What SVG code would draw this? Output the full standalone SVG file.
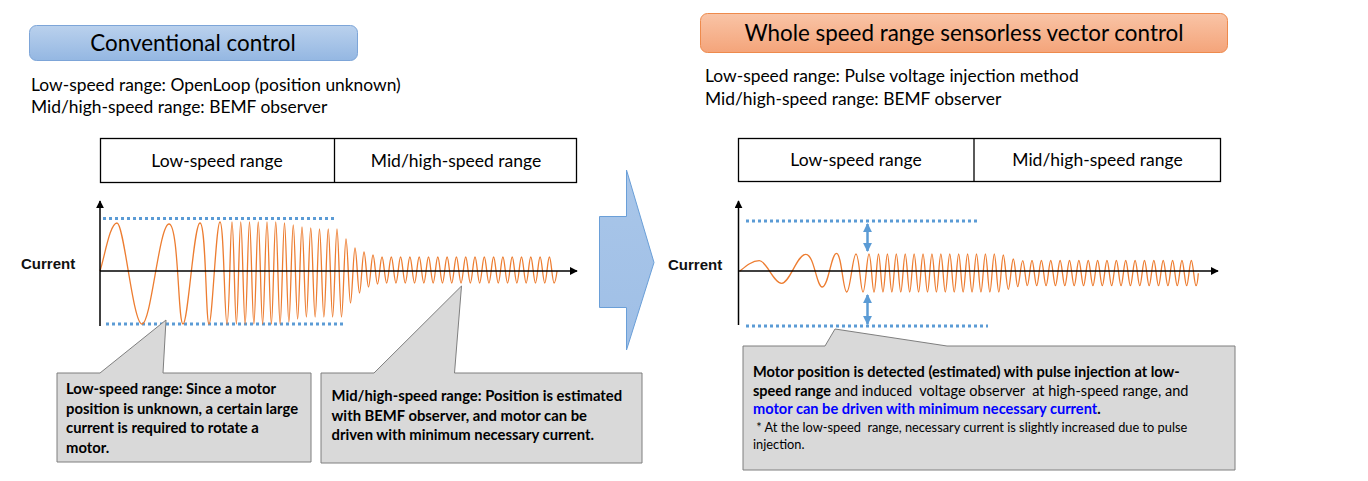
<svg xmlns="http://www.w3.org/2000/svg" width="1368" height="481" viewBox="0 0 1368 481">
<style>
.t{font-family:Lato,"Liberation Sans",sans-serif;fill:#000}
.title{font-size:22.4px}
.sub{font-size:17.4px}
.rng{font-size:17.5px}
.cb{font-size:14.8px;font-weight:bold}
.cbr{font-size:14.6px;font-weight:bold}
.cr{font-size:14.5px}
.cs{font-size:12.8px}
.cur{font-family:"Liberation Sans",Arial,sans-serif;font-size:15px;font-weight:bold;fill:#111}
.box{fill:#fff;stroke:#000;stroke-width:1.3}
.wave{fill:none;stroke:#ED7D31;stroke-width:1.3;stroke-linejoin:round}
.dot{stroke:#5B9BD5;stroke-width:3;stroke-dasharray:3 3;fill:none}
.axis{stroke:#000;stroke-width:1.5;fill:none}
.callout{fill:#D9D9D9;stroke:#7F7F7F;stroke-width:1}
.darr{stroke:#5B9BD5;stroke-width:2.5;fill:none}
</style>
<defs>
<linearGradient id="gBlue" x1="0" y1="0" x2="0" y2="1"><stop offset="0" stop-color="#BAD1ED"/><stop offset="1" stop-color="#94B7E2"/></linearGradient>
<linearGradient id="gOrange" x1="0" y1="0" x2="0" y2="1"><stop offset="0" stop-color="#F9C4A6"/><stop offset="1" stop-color="#F4A47A"/></linearGradient>
<linearGradient id="gArrow" x1="0" y1="0" x2="0" y2="1"><stop offset="0" stop-color="#A9C6E9"/><stop offset="1" stop-color="#9FBFE6"/></linearGradient>
<marker id="ah" viewBox="0 0 10 10" refX="9" refY="5" markerWidth="8" markerHeight="8" markerUnits="userSpaceOnUse" orient="auto"><path d="M0,0 L10,5 L0,10 z" fill="#000"/></marker>
<marker id="bh" viewBox="0 0 10 10" refX="9" refY="5" markerWidth="9" markerHeight="9" markerUnits="userSpaceOnUse" orient="auto-start-reverse"><path d="M0,0 L10,5 L0,10 z" fill="#5B9BD5"/></marker>
</defs>

<g id="title-conventional">
<rect x="29.5" y="25.5" width="328" height="35" rx="7" fill="url(#gBlue)" stroke="#7DA5D8"/>
<text class="t title" x="193" y="50.5" text-anchor="middle">Conventional control</text>
</g>
<g id="sub-conventional">
<text class="t sub" x="31" y="91">Low-speed range: OpenLoop (position unknown)</text>
<text class="t sub" x="31" y="113">Mid/high-speed range: BEMF observer</text>
</g>
<g id="title-sensorless">
<rect x="700.5" y="13.5" width="527" height="39" rx="7" fill="url(#gOrange)" stroke="#EE8A4C"/>
<text class="t title" x="964" y="41" text-anchor="middle">Whole speed range sensorless vector control</text>
</g>
<g id="sub-sensorless">
<text class="t sub" x="705" y="82">Low-speed range: Pulse voltage injection method</text>
<text class="t sub" x="705" y="105">Mid/high-speed range: BEMF observer</text>
</g>

<g id="range-left">
<rect class="box" x="100.5" y="138.5" width="476" height="44"/>
<line class="box" x1="334.5" y1="138.5" x2="334.5" y2="182.5"/>
<text class="t rng" x="217" y="166.5" text-anchor="middle">Low-speed range</text>
<text class="t rng" x="456" y="166.5" text-anchor="middle">Mid/high-speed range</text>
</g>
<g id="range-right">
<rect class="box" x="738.5" y="138.5" width="482" height="43"/>
<line class="box" x1="974" y1="138.5" x2="974" y2="181.5"/>
<text class="t rng" x="856" y="165.5" text-anchor="middle">Low-speed range</text>
<text class="t rng" x="1097.5" y="165.5" text-anchor="middle">Mid/high-speed range</text>
</g>

<g id="chart-left">
<text class="cur" x="21" y="269">Current</text>
<line class="dot" x1="103" y1="218.5" x2="336" y2="218.5"/>
<line class="dot" x1="106" y1="324" x2="344" y2="324"/>
<path class="wave" d="M100,271 C105,255 110,223 117,223 s15.9,101 25,101 s17.2,-100 27,-100 s8.9,100 14,100 s10.8,-101 17,-101 s5.7,101 9,101 s7,-102 11,-102 s4.5,102 7,102 s3.2,-102 5,-102
s2.78,102 4.375,102 s2.78,-102 4.375,-102 s2.78,102 4.375,102 s2.78,-102 4.375,-102 s2.78,102 4.375,102 s2.78,-102 4.375,-102 s2.78,102 4.375,102 s2.78,-102 4.375,-102 s2.78,102 4.375,102 s2.78,-102 4.375,-102 s2.78,102 4.375,102
s2.78,-101 4.375,-101 s2.78,99 4.375,99 s2.78,-97 4.375,-97 s2.78,94 4.375,94 s2.78,-92 4.375,-92 s2.78,90 4.375,90 s2.78,-89 4.375,-89 s2.78,89 4.375,89 s2.78,-88 4.375,-88 s2.78,88 4.375,88 s2.78,-88 4.375,-88 s2.78,88 4.375,88 s2.78,-88 4.375,-88
s2.86,88 4.5,88 s2.86,-78 4.5,-78 s2.86,64 4.5,64 s2.86,-55 4.5,-55 s2.86,45 4.5,45 s2.86,-41 4.5,-41 s2.86,35 4.5,35 s2.86,-32 4.5,-32 s2.86,29 4.5,29 s2.86,-27 4.5,-27
s2.96,26 4.65,26 s2.96,-26 4.65,-26 s2.96,26 4.65,26 s2.96,-26 4.65,-26 s2.96,26 4.65,26 s2.96,-26 4.65,-26 s2.96,26 4.65,26 s2.96,-26 4.65,-26 s2.96,26 4.65,26 s2.96,-26 4.65,-26 s2.96,26 4.65,26 s2.96,-26 4.65,-26
s2.96,26 4.65,26 s2.96,-26 4.65,-26 s2.96,26 4.65,26 s2.96,-26 4.65,-26 s2.96,26 4.65,26 s2.96,-26 4.65,-26 s2.96,26 4.65,26 s2.96,-26 4.65,-26 s2.96,26 4.65,26 s2.96,-26 4.65,-26 s2.96,26 4.65,26 s2.96,-26 4.65,-26
s2.96,26 4.65,26 s2.96,-26 4.65,-26 s2.96,26 4.65,26 s2.96,-26 4.65,-26 s2.96,26 4.65,26 s2.96,-26 4.65,-26 s2.96,26 4.65,26 s2.96,-26 4.65,-26 s2.96,26 4.65,26 s2.96,-26 4.65,-26 s2.96,26 4.65,26 s2.96,-26 4.65,-26
s2.96,26 4.65,26 c1.2,0 2.2,-6 3,-12"/>
<line class="axis" x1="100" y1="326" x2="100" y2="201" marker-end="url(#ah)"/>
<line class="axis" x1="100" y1="271" x2="577" y2="271" marker-end="url(#ah)"/>
</g>

<g id="chart-right">
<text class="cur" x="668" y="270">Current</text>
<line class="dot" x1="746" y1="221" x2="978" y2="221"/>
<line class="dot" x1="746" y1="326" x2="988" y2="326"/>
<path class="wave" d="M740,271 C746,266 752,260.7 759.3,260.7 s14.25,22.6 22.4,22.6 s15.3,-29 24,-29 s10.6,32.7 16.6,32.7 s9,-33.7 14.2,-33.7 s6.5,38.7 10.2,38.7 s5.9,-38 9.3,-38 s4.45,38 7,38 s3.8,-38 6,-38 s3.2,38 5,38 s2.86,-38 4.5,-38
s2.83,38 4.454,38 s2.83,-38 4.454,-38 s2.83,38 4.454,38 s2.83,-38 4.454,-38 s2.83,38 4.454,38 s2.83,-38 4.454,-38 s2.83,38 4.454,38 s2.83,-38 4.454,-38 s2.83,38 4.454,38 s2.83,-38 4.454,-38 s2.83,38 4.454,38 s2.83,-38 4.454,-38 s2.83,38 4.454,38
s2.83,-38 4.454,-38 s2.83,38 4.454,38 s2.83,-38 4.454,-38 s2.83,38 4.454,38 s2.83,-38 4.454,-38 s2.83,38 4.454,38 s2.83,-38 4.454,-38 s2.83,38 4.454,38 s2.83,-38 4.454,-38 s2.83,38 4.454,38 s2.83,-38 4.454,-38 s2.83,38 4.454,38 s2.83,-38 4.454,-38
s2.86,38 4.5,38 s2.86,-37 4.5,-37 s3.18,34.3 5,34.3 s3.18,-30.3 5,-30.3 s2.8,27.7 4.4,27.7 s3.18,-26 5,-26 s2.93,25 4.6,25 s2.99,-25.2 4.7,-25.2
s2.98,25.2 4.686,25.2 s2.98,-25.2 4.686,-25.2 s2.98,25.2 4.686,25.2 s2.98,-25.2 4.686,-25.2 s2.98,25.2 4.686,25.2 s2.98,-25.2 4.686,-25.2 s2.98,25.2 4.686,25.2 s2.98,-25.2 4.686,-25.2 s2.98,25.2 4.686,25.2 s2.98,-25.2 4.686,-25.2 s2.98,25.2 4.686,25.2 s2.98,-25.2 4.686,-25.2
s2.98,25.2 4.686,25.2 s2.98,-25.2 4.686,-25.2 s2.98,25.2 4.686,25.2 s2.98,-25.2 4.686,-25.2 s2.98,25.2 4.686,25.2 s2.98,-25.2 4.686,-25.2 s2.98,25.2 4.686,25.2 s2.98,-25.2 4.686,-25.2 s2.98,25.2 4.686,25.2 s2.98,-25.2 4.686,-25.2 s2.98,25.2 4.686,25.2 s2.98,-25.2 4.686,-25.2
s2.98,25.2 4.686,25.2 s2.98,-25.2 4.686,-25.2 s2.98,25.2 4.686,25.2 s2.98,-25.2 4.686,-25.2 s2.98,25.2 4.686,25.2 s2.98,-25.2 4.686,-25.2 s2.98,25.2 4.686,25.2 s2.98,-25.2 4.686,-25.2 s2.98,25.2 4.686,25.2 s2.98,-25.2 4.686,-25.2
s2.98,25.2 4.686,25.2 c1,0 1.8,-6 2.3,-12.5"/>
<line class="axis" x1="738.5" y1="325" x2="738.5" y2="201" marker-end="url(#ah)"/>
<line class="axis" x1="738.5" y1="271" x2="1218" y2="271" marker-end="url(#ah)"/>
</g>

<g id="connectors">
<line class="darr" x1="867.5" y1="224" x2="867.5" y2="251" marker-start="url(#bh)" marker-end="url(#bh)"/>
<line class="darr" x1="867.5" y1="295" x2="867.5" y2="324" marker-start="url(#bh)" marker-end="url(#bh)"/>
</g>

<g id="big-arrow">
<polygon points="599.5,216.5 626.5,216.5 626.5,170 654,262.5 626.5,350 626.5,307.5 599.5,307.5" fill="url(#gArrow)" stroke="#6A9FD8" stroke-width="1"/>
</g>

<g id="callout-low">
<polygon class="callout" points="57,373 100,373 166,320 163,373 311,373 311,462 57,462"/>
<text class="t cb" x="66" y="394">Low-speed range: Since a motor</text>
<text class="t cb" x="66" y="413.5">position is unknown, a certain large</text>
<text class="t cb" x="66" y="433">current is required to rotate a</text>
<text class="t cb" x="66" y="452.5">motor.</text>
</g>

<g id="callout-mid">
<polygon class="callout" points="321,373 374,373 461.5,286 454.5,373 642,373 642,463 321,463"/>
<text class="t cb" x="331.5" y="401">Mid/high-speed range: Position is estimated</text>
<text class="t cb" x="331.5" y="420.5">with BEMF observer, and motor can be</text>
<text class="t cb" x="331.5" y="440">driven with minimum necessary current.</text>
</g>

<g id="callout-right">
<polygon class="callout" points="743,346 825,346 835,329 947,346 1235,346 1235,470 743,470"/>
<text class="t cbr" x="753" y="376.5">Motor position is detected (estimated) with pulse injection at low-</text>
<text class="t cr" x="753" y="395.5" style="white-space:pre"><tspan font-weight="bold">speed range</tspan> and induced  voltage observer  at high-speed range, and</text>
<text class="t cbr" x="753" y="414"><tspan fill="#0000FF">motor can be driven with minimum necessary current</tspan>.</text>
<text class="t cs" x="753" y="431.5" style="white-space:pre"> * At the low-speed  range, necessary current is slightly increased due to pulse</text>
<text class="t cs" x="753" y="449">injection.</text>
</g>
</svg>
